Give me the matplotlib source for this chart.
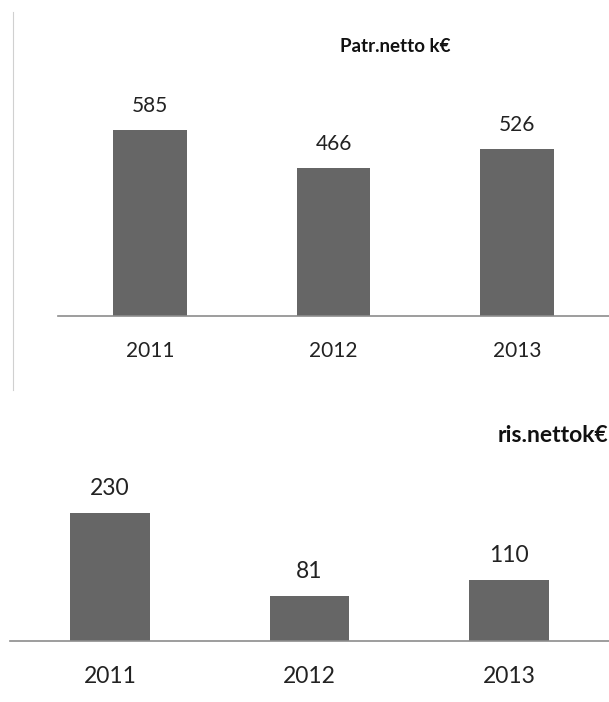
import matplotlib
matplotlib.use('Agg')
import matplotlib.pyplot as plt
from matplotlib.lines import Line2D

plt.rcParams['font.family'] = ['Lato', 'DejaVu Sans']

years = ['2011', '2012', '2013']
patr_netto = [585, 466, 526]
ris_netto = [230, 81, 110]

BAR_COLOR = '#666666'
AXIS_COLOR = '#8c8c8c'

W, H = 609, 702
fig = plt.figure(figsize=(W / 100, H / 100), dpi=100)


def px_box(left, top, right, bottom):
    # pixel box -> figure fraction [l, b, w, h]
    return [left / W, 1 - bottom / H, (right - left) / W, (bottom - top) / H]


def bar_panel(ax, values, ymax, fs):
    x = range(len(values))
    ax.bar(x, values, width=0.4, color=BAR_COLOR)
    ax.set_xlim(-0.5, len(values) - 0.5)
    ax.set_ylim(0, ymax)
    for s in ['top', 'right', 'left']:
        ax.spines[s].set_visible(False)
    ax.spines['bottom'].set_color(AXIS_COLOR)
    ax.spines['bottom'].set_linewidth(1.2)
    ax.set_yticks([])
    ax.set_xticks(list(x))
    ax.set_xticklabels(years, fontsize=fs, color='#222222')
    ax.tick_params(axis='x', length=0, pad=18)
    for i, v in enumerate(values):
        ax.annotate(str(v), (i, v), xytext=(0, 10), textcoords='offset points',
                    ha='center', va='bottom', fontsize=fs, color='#222222')


ax1 = fig.add_axes(px_box(58, 20, 609, 316))
bar_panel(ax1, patr_netto, 296 / 0.318, 15)

ax2 = fig.add_axes(px_box(10, 400, 609, 641))
bar_panel(ax2, ris_netto, 241 / 0.557, 16.5)

fig.text(395 / W, 1 - 46 / H, 'Patr.netto k€', ha='center', va='center',
         fontsize=13.5, fontweight='bold', color='#111111')
fig.text(608 / W, 1 - 435 / H, 'ris.nettok€', ha='right', va='center',
         fontsize=16.5, fontweight='bold', color='#111111')

# thin frame line on the left
fig.add_artist(Line2D([13 / W, 13 / W], [1 - 12 / H, 1 - 390 / H],
                      color='#d0d0d0', linewidth=0.8))

fig.savefig('out.png', dpi=100)
